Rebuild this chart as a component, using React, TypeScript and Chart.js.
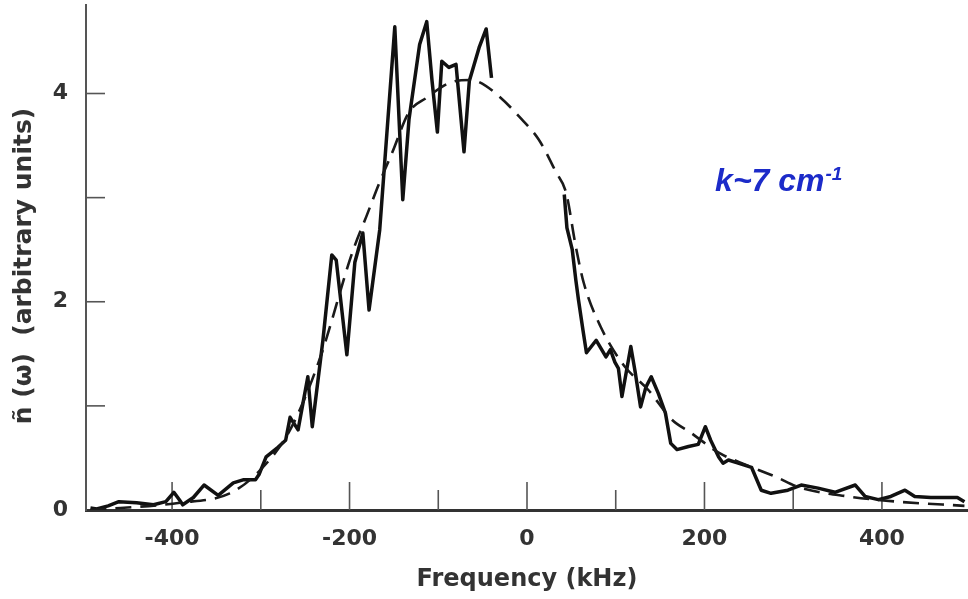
import React, { useEffect, useRef } from "react";
import { Chart, registerables } from "chart.js";

Chart.register(...registerables);

// Measured spectrum (solid trace); null marks the break where the trace hides under the fit
const measuredFreq = [
  -492, -485, -472, -460, -440, -421, -407, -398, -392, -388, -376, -364, -348, -331, -320, -306,
  -302, -294, -281, -272, -267, -258, -247, -242, -230, -220, -215, -203, -194, -185, -178, -166,
  -149, -140, -133, -121, -113, -107, -101, -96, -88, -80, -71, -65, -54, -46, -40,
  0,
  42, 45, 51, 55, 58, 63, 67, 78, 89, 94, 99, 103, 107, 117, 122, 128, 134, 140, 148, 156, 162,
  169, 182, 193, 201, 207, 216, 221, 227, 238, 253, 264, 275, 294, 309, 328, 347, 370, 381, 396,
  410, 426, 437, 455, 485, 493,
];
const measuredAmp: (number | null)[] = [
  0.02, 0.01, 0.04, 0.08, 0.07, 0.05, 0.08, 0.17, 0.10, 0.05, 0.12, 0.24, 0.14, 0.26, 0.29, 0.29,
  0.34, 0.51, 0.60, 0.67, 0.89, 0.77, 1.28, 0.80, 1.63, 2.45, 2.40, 1.49, 2.38, 2.66, 1.92, 2.69,
  4.64, 2.98, 3.75, 4.47, 4.69, 4.12, 3.63, 4.31, 4.25, 4.28, 3.44, 4.12, 4.44, 4.62, 4.15,
  null,
  3.03, 2.71, 2.50, 2.21, 2.02, 1.73, 1.51, 1.63, 1.47, 1.54, 1.42, 1.36, 1.09, 1.57, 1.32, 0.99,
  1.18, 1.28, 1.12, 0.93, 0.64, 0.58, 0.61, 0.63, 0.80, 0.67, 0.51, 0.45, 0.48, 0.45, 0.41, 0.19,
  0.16, 0.19, 0.24, 0.21, 0.17, 0.24, 0.13, 0.10, 0.13, 0.19, 0.13, 0.12, 0.12, 0.08,
];

// Fitted curve (dashed)
const fitFreq = [
  -492, -391, -335, -301, -267, -234, -197, -181, -166, -152, -133, -113, -88, -65, -54, -31, -9,
  13, 33, 44, 55, 64, 83, 109, 137, 163, 185, 216, 242, 280, 306, 362, 418, 493,
];
const fitAmp = [
  0.0, 0.07, 0.16, 0.38, 0.77, 1.44, 2.47, 2.82, 3.15, 3.43, 3.82, 3.96, 4.10, 4.13, 4.11, 3.97,
  3.78, 3.56, 3.24, 3.05, 2.53, 2.18, 1.76, 1.39, 1.15, 0.87, 0.74, 0.55, 0.45, 0.32, 0.22, 0.13,
  0.08, 0.04,
];

const xMin = -497;
const xMax = 497;
const yMin = 0;
const yMax = 4.85;
const xTickValues = [-400, -300, -200, -100, 0, 100, 200, 300, 400];
const xLabelled = [-400, -200, 0, 200, 400];
const yTickValues = [0, 1, 2, 3, 4];
const yLabelled = [0, 2, 4];

const yTitle = "ñ (ω)  (arbitrary units)";
const xTitle = "Frequency (kHz)";
const annotationMain = "k~7 cm";
const annotationSup = "-1";
const annotationAt = { x: 212, y: 3.06 };

const isLabelled = (list: number[], v: any) => list.includes(Math.round(Number(v)));

const innerTicks = {
  id: "innerTicks",
  beforeDatasetsDraw(chart: any) {
    const { ctx, scales, chartArea } = chart;
    const xs = scales.x;
    const ys = scales.y;
    ctx.save();
    ctx.strokeStyle = "#555";
    ctx.lineWidth = 1.6;
    xs.ticks.forEach((t: any) => {
      const px = xs.getPixelForValue(t.value);
      const len = isLabelled(xLabelled, t.value) ? 28 : 20;
      ctx.beginPath();
      ctx.moveTo(px, chartArea.bottom);
      ctx.lineTo(px, chartArea.bottom - len);
      ctx.stroke();
    });
    ys.ticks.forEach((t: any) => {
      if (Math.round(t.value) === 0) return;
      const py = ys.getPixelForValue(t.value);
      ctx.beginPath();
      ctx.moveTo(chartArea.left, py);
      ctx.lineTo(chartArea.left + 19, py);
      ctx.stroke();
    });
    ctx.restore();
  },
};

const textPlugin = {
  id: "textPlugin",
  afterDraw(chart: any) {
    const { ctx, scales } = chart;
    ctx.save();
    // Y title
    ctx.translate(24, 266);
    ctx.rotate(-Math.PI / 2);
    ctx.textAlign = "center";
    ctx.textBaseline = "middle";
    ctx.font = 'bold 25px "DejaVu Sans"';
    ctx.fillStyle = "#333";
    ctx.fillText(yTitle, 0, 0);
    ctx.restore();

    // Annotation
    ctx.save();
    const ax = scales.x.getPixelForValue(annotationAt.x);
    const ay = scales.y.getPixelForValue(annotationAt.y);
    ctx.fillStyle = "#1c2bc9";
    ctx.textBaseline = "alphabetic";
    ctx.textAlign = "left";
    ctx.font = 'italic bold 32px "Liberation Sans", Arial';
    ctx.fillText(annotationMain, ax, ay);
    const w = ctx.measureText(annotationMain).width;
    ctx.font = 'italic bold 19px "Liberation Sans", Arial';
    ctx.fillText(annotationSup, ax + w + 1, ay - 11);
    ctx.restore();
  },
};

export default function App() {
  const ref = useRef<HTMLCanvasElement | null>(null);

  useEffect(() => {
    document.body.style.margin = "0";
    const canvas = ref.current;
    if (!canvas) return;
    const measured = measuredFreq.map((f, i) => ({ x: f, y: measuredAmp[i] }));
    const fit = fitFreq.map((f, i) => ({ x: f, y: fitAmp[i] }));
    const tickFont = { family: "DejaVu Sans", size: 22, weight: "bold" as const };

    const chart = new Chart(canvas, {
      type: "line",
      data: {
        datasets: [
          {
            label: "fit",
            data: fit as any,
            borderColor: "#1a1a1a",
            borderWidth: 2.6,
            borderDash: [16, 9],
            pointRadius: 0,
            tension: 0.4,
            cubicInterpolationMode: "monotone",
            fill: false,
          },
          {
            label: "measured",
            data: measured as any,
            borderColor: "#111",
            borderWidth: 3.5,
            pointRadius: 0,
            tension: 0,
            spanGaps: false,
            borderJoinStyle: "round",
            fill: false,
          },
        ],
      },
      options: {
        animation: false,
        responsive: false,
        devicePixelRatio: 1,
        layout: { padding: { top: 5, right: 0, left: 0, bottom: 0 } },
        plugins: {
          legend: { display: false },
          tooltip: { enabled: false },
        },
        scales: {
          x: {
            type: "linear",
            min: xMin,
            max: xMax,
            grid: { display: false },
            border: { display: true, color: "#333", width: 3 },
            afterBuildTicks(scale: any) {
              scale.ticks = xTickValues.map((v) => ({ value: v }));
            },
            ticks: {
              padding: 8,
              maxRotation: 0,
              autoSkip: false,
              color: "#333",
              font: tickFont,
              callback: (v: any) =>
                isLabelled(xLabelled, v) ? String(Math.round(Number(v))) : "",
            },
            title: {
              display: true,
              text: xTitle,
              color: "#333",
              font: { family: "DejaVu Sans", size: 24, weight: "bold" },
              padding: { top: 0, bottom: 5 },
            },
            afterFit(scale: any) {
              scale.height = 89;
              scale.paddingLeft = 0;
              scale.paddingRight = 0;
            },
          },
          y: {
            type: "linear",
            min: yMin,
            max: yMax,
            grid: { display: false },
            border: { display: true, color: "#555", width: 2 },
            afterBuildTicks(scale: any) {
              scale.ticks = yTickValues.map((v) => ({ value: v }));
            },
            ticks: {
              padding: 10,
              autoSkip: false,
              color: "#333",
              font: tickFont,
              callback: (v: any) =>
                isLabelled(yLabelled, v) ? String(Math.round(Number(v))) : "",
            },
            afterFit(scale: any) {
              scale.width = 86;
              scale.paddingTop = 0;
              scale.paddingBottom = 0;
            },
          },
        },
      },
      plugins: [innerTicks, textPlugin],
    });
    return () => chart.destroy();
  }, []);

  return (
    <div style={{ position: "relative", width: 968, height: 599 }}>
      <canvas ref={ref} width={968} height={599} style={{ display: "block" }} />
    </div>
  );
}
